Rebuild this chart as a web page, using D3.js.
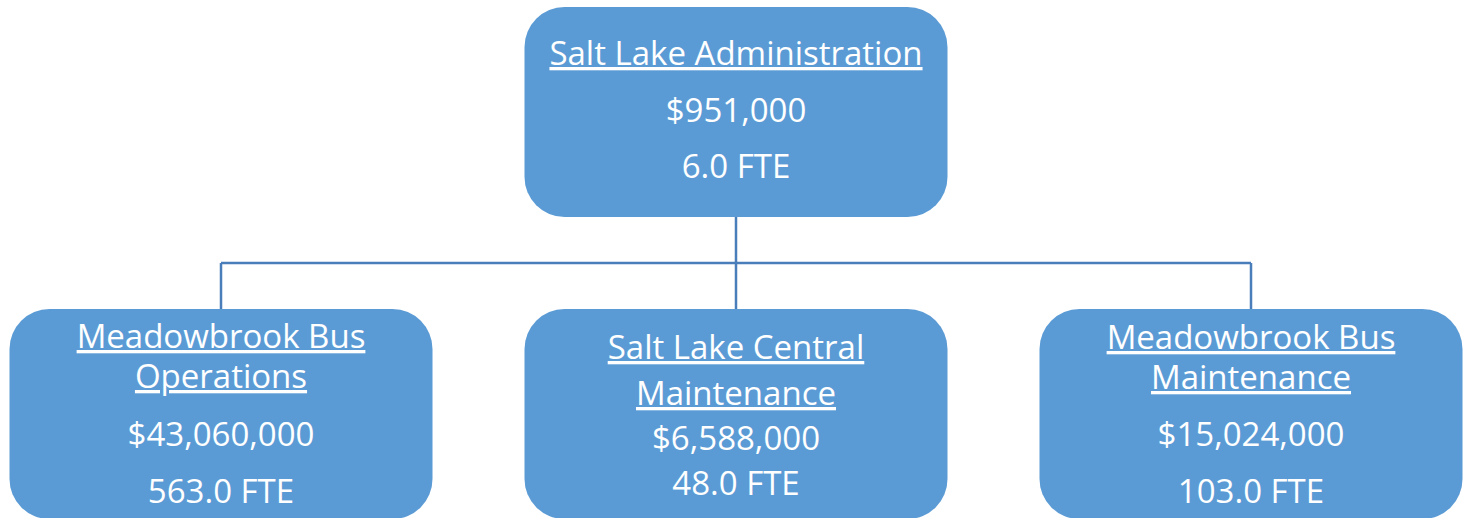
<!DOCTYPE html>
<html>
<head>
<meta charset="utf-8">
<script src="https://cdn.jsdelivr.net/npm/d3@7"></script>
<style>
  body { margin: 0; background: #fff; }
  svg text { font-family: "Open Sans", Lato, sans-serif; fill: #fff; }
</style>
</head>
<body>
<div id="wrapper"></div>
<script>
// org chart data
const unitTitles = [
    ["Salt Lake Administration"],
    ["Meadowbrook Bus", "Operations"],
    ["Salt Lake Central", "Maintenance"],
    ["Meadowbrook Bus", "Maintenance"]
];
const budgets = [951000, 43060000, 6588000, 15024000];
const fteCounts = [6.0, 563.0, 48.0, 103.0];
const parentIndex = [null, 0, 0, 0];

// per box text baselines (relative to box top) - middle box is set tighter
const lineOffsets = [
    [58, 115, 171],
    [39, 79, 137, 194],
    [50, 96, 141, 186],
    [40, 80, 137, 194]
];

function drawChart() {
    const dimension = { width: 1470, height: 518 };
    const box = { width: 423, height: 210, radius: 40 };

    const nodes = unitTitles.map((t, i) => ({
        id: "n" + i, parent: parentIndex[i] === null ? "" : "n" + parentIndex[i],
        title: t, budget: budgets[i], fte: fteCounts[i], offsets: lineOffsets[i]
    }));
    const root = d3.stratify().id(d => d.id).parentId(d => d.parent || null)(nodes);

    const children = root.children;
    const xScaler = d3.scalePoint()
        .domain(children.map(d => d.id))
        .range([221, 1251]);
    const yScaler = d3.scalePoint()
        .domain([0, 1])
        .range([7, 309]);

    root.x = xScaler(children[Math.floor(children.length / 2)].id);
    root.y = yScaler(0);
    children.forEach(c => { c.x = xScaler(c.id); c.y = yScaler(1); });

    const svg = d3.select("#wrapper").append("svg")
        .attr("width", dimension.width)
        .attr("height", dimension.height);

    // connectors
    const busY = 263;
    const linkPath = d3.path();
    linkPath.moveTo(root.x, root.y + box.height);
    linkPath.lineTo(root.x, busY);
    linkPath.moveTo(d3.min(children, c => c.x), busY);
    linkPath.lineTo(d3.max(children, c => c.x), busY);
    children.forEach(c => {
        linkPath.moveTo(c.x, busY);
        linkPath.lineTo(c.x, c.y);
    });
    svg.append("path")
        .attr("d", linkPath.toString())
        .attr("fill", "none")
        .attr("stroke", "#4a7ebb")
        .attr("stroke-width", 2.5);

    const fmtMoney = d3.format("$,.0f");
    const fmtFte = d3.format(".1f");

    const g = svg.selectAll("g.unit")
        .data(root.descendants())
        .join("g")
        .attr("class", "unit")
        .attr("transform", d => `translate(${d.x - box.width / 2},${d.y})`);

    g.append("rect")
        .attr("width", box.width)
        .attr("height", box.height)
        .attr("rx", box.radius)
        .attr("fill", "#5b9bd5");

    g.each(function (d) {
        const el = d3.select(this);
        const lines = d.data.title.map(t => ({ text: t, underline: true }))
            .concat([{ text: fmtMoney(d.data.budget) }, { text: fmtFte(d.data.fte) + " FTE" }]);
        el.selectAll("text")
            .data(lines)
            .join("text")
            .attr("x", box.width / 2)
            .attr("y", (l, i) => d.data.offsets[i])
            .attr("text-anchor", "middle")
            .attr("font-size", 33)
            .style("text-decoration", l => l.underline ? "underline" : null)
            .text(l => l.text);
    });
}

drawChart();
</script>
</body>
</html>
